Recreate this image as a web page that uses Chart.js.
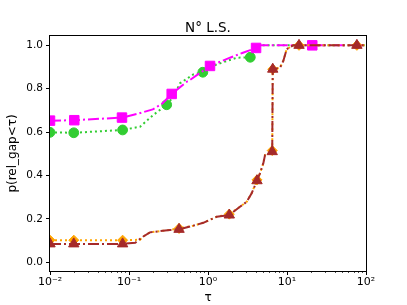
<!DOCTYPE html>
<html><head><meta charset="utf-8">
<script src="https://cdn.jsdelivr.net/npm/chart.js@4"></script>
<style>html,body{margin:0;padding:0;background:#fff;} canvas{display:block}</style>
</head><body>
<canvas id="c" width="407" height="305"></canvas>
<script>
const chartTitle = 'N° L.S.';
const xLabel = 'τ';
const yLabel = 'p(rel_gap<τ)';
const xTicks = [0.01, 0.1, 1, 10, 100];
const xTickLabels = ['10⁻²', '10⁻¹', '10⁰', '10¹', '10²'];
const yTicks = [0, 0.2, 0.4, 0.6, 0.8, 1.0];

const magentaTau = [0.01, 0.0203, 0.0815, 0.13, 0.2, 0.26, 0.347, 0.537, 0.59, 1.06, 1.9, 2.77, 4.06, 4.5, 20.9, 100];
const magentaP   = [0.653, 0.655, 0.667, 0.685, 0.705, 0.73, 0.776, 0.832, 0.84, 0.905, 0.943, 0.966, 0.988, 1.0, 1.0, 1.0];
const magentaMarks = [0.01, 0.0203, 0.0815, 0.347, 1.06, 4.06, 20.9];

const greenTau = [0.01, 0.02, 0.083, 0.138, 0.203, 0.30, 0.364, 0.442, 0.652, 0.86, 1.29, 2.31, 3.43, 4.13, 4.6, 100];
const greenP   = [0.599, 0.597, 0.61, 0.625, 0.679, 0.726, 0.763, 0.825, 0.866, 0.876, 0.912, 0.943, 0.945, 0.99, 1.0, 1.0];
const greenMarks = [0.01, 0.02, 0.083, 0.30, 0.86, 3.43];

const brownTau = [0.01, 0.02, 0.083, 0.12, 0.15, 0.184, 0.25, 0.33, 0.43, 0.652, 0.873, 1.29, 1.86, 2.54, 3.09, 3.57, 4.17, 4.55, 5.01, 5.27, 6.5, 6.6, 8.15, 8.98, 9.91, 12.0, 14.2, 76.7, 100];
const brownP   = [0.085, 0.085, 0.085, 0.09, 0.118, 0.138, 0.144, 0.149, 0.152, 0.169, 0.182, 0.21, 0.218, 0.256, 0.279, 0.318, 0.376, 0.41, 0.456, 0.494, 0.51, 0.89, 0.897, 0.928, 0.982, 1.0, 1.0, 1.0, 1.0];
const brownMarks = [0.01, 0.02, 0.083, 0.43, 1.86, 4.17, 6.5, 6.6, 14.2, 76.7];

const orangeTau = [0.01, 0.02, 0.083, 0.138, 0.15, 0.184, 0.25, 0.33, 0.43, 0.652, 0.873, 1.29, 1.86, 2.54, 3.09, 3.57, 4.17, 4.55, 5.01, 5.27, 6.5, 6.6, 8.15, 8.98, 9.91, 12.0, 14.2, 76.7, 100];
const orangeP   = [0.102, 0.102, 0.102, 0.104, 0.118, 0.138, 0.144, 0.149, 0.156, 0.169, 0.182, 0.21, 0.222, 0.256, 0.279, 0.318, 0.38, 0.41, 0.456, 0.494, 0.515, 0.89, 0.897, 0.928, 0.982, 1.0, 1.0, 1.0, 1.0];
const orangeMarks = [0.01, 0.02, 0.083, 0.43, 1.86, 4.17, 6.5, 6.6, 14.2, 76.7];

const FONT = 'DejaVu Sans';

function pts(t, p) { return t.map((v, i) => ({x: v, y: p[i]})); }
function radiusFor(marks, r) {
  return ctx => (ctx.raw && marks.includes(ctx.raw.x)) ? r : 0;
}
function series(label, t, p, marks, color, style, r, dash) {
  return {
    label, data: pts(t, p), borderColor: color, backgroundColor: color,
    borderWidth: 2, borderDash: dash, borderCapStyle: 'butt',
    pointStyle: style, pointRadius: radiusFor(marks, r), pointHoverRadius: 0,
    pointBorderWidth: 1, pointBorderColor: color, pointBackgroundColor: color,
    tension: 0, fill: false, clip: 0
  };
}

const frameAndTitle = {
  id: 'frameAndTitle',
  afterDraw(chart) {
    const {ctx, chartArea: a, scales: {x}} = chart;
    ctx.save();
    ctx.strokeStyle = '#000';
    ctx.lineWidth = 1;
    ctx.strokeRect(a.left - 0.5, a.top - 0.5, a.right - a.left + 1, a.bottom - a.top + 1);
    ctx.beginPath();
    for (let d = -2; d <= 1; d++) {
      for (let k = 2; k <= 9; k++) {
        const px = Math.round(x.getPixelForValue(k * Math.pow(10, d))) + 0.5;
        ctx.moveTo(px, a.bottom);
        ctx.lineTo(px, a.bottom + 2);
      }
    }
    ctx.lineWidth = 0.7;
    ctx.stroke();
    ctx.fillStyle = '#000';
    ctx.font = '13.5px "' + FONT + '"';
    ctx.textAlign = 'center';
    ctx.textBaseline = 'alphabetic';
    ctx.fillText(chartTitle, (a.left + a.right) / 2, 32);
    ctx.restore();
  }
};

new Chart(document.getElementById('c'), {
  type: 'line',
  data: {
    datasets: [
      series('brown', brownTau, brownP, brownMarks, '#a52a2a', 'triangle', 6, [11, 3, 2, 3]),
      series('orange', orangeTau, orangeP, orangeMarks, '#ffa500', 'rectRot', 5, [2, 3]),
      series('magenta', magentaTau, magentaP, magentaMarks, '#ff00ff', 'rect', 6.7, [11, 3, 2, 3]),
      series('green', greenTau, greenP, greenMarks, '#32cd32', 'circle', 4.9, [2, 3])
    ]
  },
  options: {
    responsive: false,
    devicePixelRatio: 1,
    animation: false,
    layout: {padding: {top: 36, right: 41, left: 0, bottom: 0}},
    plugins: {legend: {display: false}, title: {display: false}, tooltip: {enabled: false}},
    scales: {
      x: {
        type: 'logarithmic', min: 0.01, max: 100,
        afterBuildTicks: s => { s.ticks = xTicks.map(v => ({value: v})); },
        afterFit: s => { s.height = 34; },
        ticks: {
          autoSkip: false, maxRotation: 0, padding: 1, color: '#000',
          font: {family: FONT, size: 11},
          callback: (v) => { const i = xTicks.indexOf(v); return i >= 0 ? xTickLabels[i] : ''; }
        },
        grid: {display: true, drawOnChartArea: false, drawTicks: true, tickLength: 4, tickColor: '#000', tickWidth: 1},
        border: {display: false},
        title: {display: true, text: xLabel, color: '#000', font: {family: FONT, size: 12}, padding: {top: 0, bottom: 0}}
      },
      y: {
        type: 'linear', min: -0.04, max: 1.043,
        afterBuildTicks: s => { s.ticks = yTicks.map(v => ({value: v})); },
        afterFit: s => { s.width = 50; },
        ticks: {
          padding: 3, color: '#000', font: {family: FONT, size: 10.5},
          callback: v => v.toFixed(1)
        },
        grid: {display: true, drawOnChartArea: false, drawTicks: true, tickLength: 4, tickColor: '#000', tickWidth: 1},
        border: {display: false},
        title: {display: true, text: yLabel, color: '#000', font: {family: FONT, size: 12}, padding: {top: 6, bottom: 0}}
      }
    }
  },
  plugins: [frameAndTitle]
});
</script>
</body></html>
